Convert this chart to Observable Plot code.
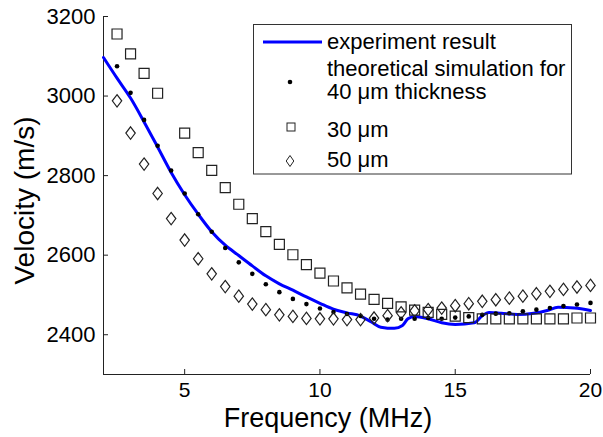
<!DOCTYPE html>
<html><head><meta charset="utf-8">
<script src="https://cdn.jsdelivr.net/npm/d3@7"></script>
<script src="https://cdn.jsdelivr.net/npm/@observablehq/plot@0.6"></script>
<style>
body{margin:0;background:#fff;}
#wrap{position:relative;width:603px;height:437px;}
#wrap svg{font-family:"Liberation Sans",Arial,sans-serif;}
#legend{position:absolute;left:0;top:0;pointer-events:none;}
</style></head><body><div id="wrap"></div>
<script>
// ---- data ----
const freq = [2.5,3,3.5,4,4.5,5,5.5,6,6.5,7,7.5,8,8.5,9,9.5,10,10.5,11,11.5,12,12.5,13,13.5,14,14.5,15,15.5,16,16.5,17,17.5,18,18.5,19,19.5,20];
const sim40 = [3075,3008,2940,2875,2813,2755,2703,2659,2618,2582,2553,2527,2507,2490,2477,2466,2457,2452,2447,2440,2438,2440,2440,2442,2440,2443,2446,2450,2453,2454,2459,2463,2467,2472,2476,2480];
const sim30 = [3156,3106,3057,3007,null,2907,2858,2813,2770,2728,2692,2659,2627,2601,2576,2555,2535,2518,2502,2489,2479,2470,2462,2456,2451,2447,2443,2440,2440,2440,2440,2440,2440,2440,2442,2442];
const sim50 = [2988,2907,2829,2755,2692,2638,2591,2553,2521,2497,2477,2463,2450,2446,2441,2440,2440,2438,2438,2442,2448,2455,2460,2463,2467,2473,2478,2484,2488,2492,2497,2503,2509,2514,2520,2524];
const expFreq = [2,2.5,3,3.5,4,4.5,5,5.5,6,6.5,7,7.5,8,8.5,9,9.5,10,10.5,11,11.5,11.9,12.25,12.75,13.05,13.25,13.5,14,14.5,15,15.7,16,16.25,16.7,17.3,17.9,18.4,18.8,19.4,20];
const expVel  = [3097,3045,2995,2935,2872,2808,2752,2703,2659,2625,2599,2573,2548,2528,2512,2495,2479,2464,2455,2447,2432,2419,2416,2423,2440,2446,2440,2430,2426,2430,2448,2456,2454,2451,2454,2461,2469,2467,2461];
const xTicks = [5,10,15,20];
const yTicks = [2400,2600,2800,3000,3200];
const xLabel = "Frequency (MHz)";
const yLabel = "Velocity (m/s)";
const legendLabels = ["experiment result","theoretical simulation for","40 \u03bcm thickness","30 \u03bcm","50 \u03bcm"];

// ---- build tables ----
const expData = expFreq.map((f,i)=>({f, v: expVel[i]}));
const d40 = freq.map((f,i)=>({f, v: sim40[i]}));
const d30 = freq.map((f,i)=>({f, v: sim30[i]})).filter(d=>d.v!=null);
const d50 = freq.map((f,i)=>({f, v: sim50[i]}));

const tallDiamond = {draw(ctx){ const w=4.7,h=6.2; ctx.moveTo(0,-h); ctx.lineTo(w,0); ctx.lineTo(0,h); ctx.lineTo(-w,0); ctx.closePath(); }};
const ink = "#222";
const blue = "#0000ff";
const fmt = d3.format("d");

const chart = Plot.plot({
  width: 603, height: 437,
  marginLeft: 103, marginRight: 13, marginTop: 16, marginBottom: 63,
  x: {domain: [2, 20]},
  y: {domain: [2300, 3200]},
  style: {fontFamily: '"Liberation Sans", Arial, sans-serif', fontSize: "22px", color: "#000", background: "transparent", overflow: "visible"},
  marks: [
    Plot.ruleY([2300], {stroke: ink}),
    Plot.ruleX([2], {stroke: ink}),
    Plot.axisX(xTicks, {tickSize: -5, tickPadding: 13, stroke: ink, fill: "#000", fontSize: 21, label: null, tickFormat: fmt}),
    Plot.axisY(yTicks, {tickSize: -5, tickPadding: 13, stroke: ink, fill: "#000", fontSize: 22, label: null, tickFormat: fmt}),
    Plot.line(expData, {x: "f", y: "v", stroke: blue, strokeWidth: 3, curve: "monotone-x"}),
    Plot.dot(d40, {x: "f", y: "v", r: 2.3, fill: "#000", stroke: null}),
    Plot.dot(d30, {x: "f", y: "v", symbol: "square", r: 5.64, fill: "none", stroke: ink, strokeWidth: 1.2}),
    Plot.dot(d50, {x: "f", y: "v", symbol: tallDiamond, r: 5, fill: "none", stroke: ink, strokeWidth: 1.2}),
    Plot.text([xLabel], {frameAnchor: "bottom", dx: -19, dy: 44, fontSize: 27, textAnchor: "middle", lineAnchor: "middle", fill: "#000"}),
    Plot.text([yLabel], {frameAnchor: "left", dx: -78, dy: 5, rotate: -90, fontSize: 28, textAnchor: "middle", lineAnchor: "middle", fill: "#000"})
  ]
});
document.getElementById("wrap").appendChild(chart);

// ---- legend (overlay) ----
const lg = d3.select("#wrap").append("svg").attr("id","legend").attr("width",603).attr("height",437)
  .style("font-family",'"Liberation Sans", Arial, sans-serif').style("font-size","22px");
lg.append("rect").attr("x",253.5).attr("y",24.5).attr("width",318).attr("height",149.5).attr("fill","#fff").attr("stroke","#333");
lg.append("line").attr("x1",263).attr("x2",322).attr("y1",42).attr("y2",42).attr("stroke",blue).attr("stroke-width",3);
lg.append("circle").attr("cx",290).attr("cy",82).attr("r",2.3).attr("fill","#000");
lg.append("rect").attr("x",287).attr("y",123).attr("width",8).attr("height",8).attr("fill","none").attr("stroke",ink);
lg.append("path").attr("d","M290,155.5L293.8,161L290,166.5L286.2,161Z").attr("fill","none").attr("stroke",ink);
const baselines = [48.5,75.5,99,136.5,166.5];
legendLabels.forEach((t,i)=>lg.append("text").attr("x",327).attr("y",baselines[i]).attr("fill","#000").text(t));
</script></body></html>
